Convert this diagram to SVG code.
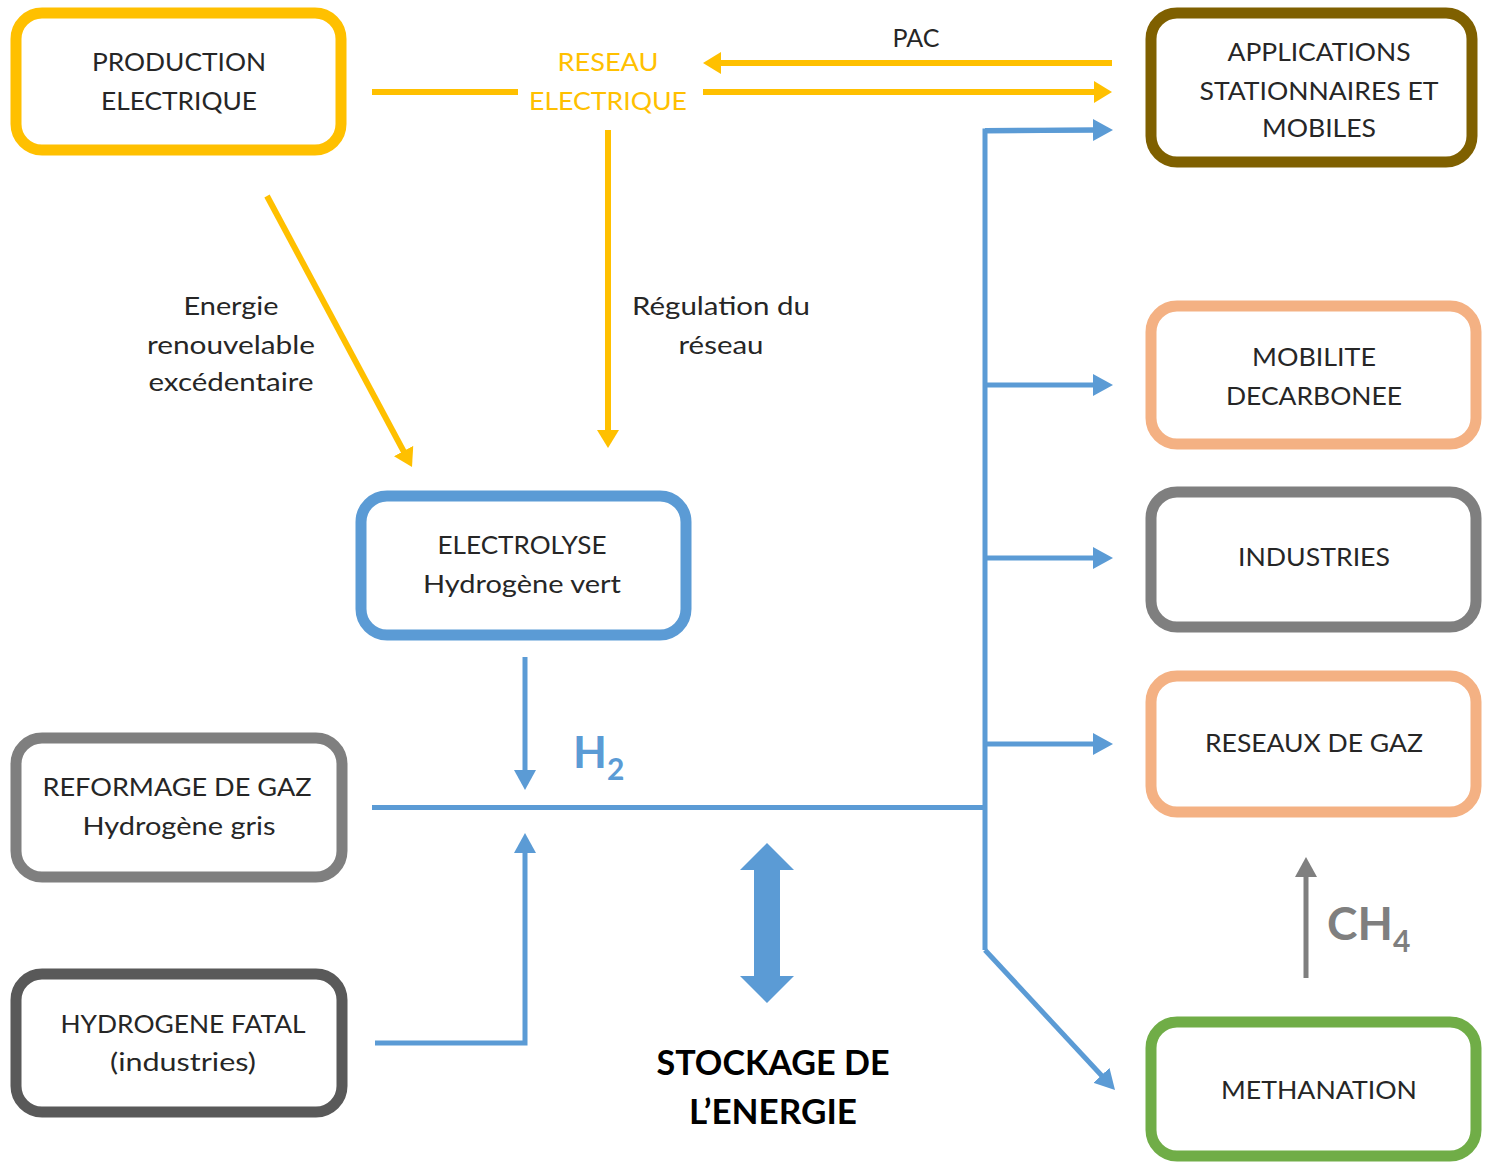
<svg xmlns="http://www.w3.org/2000/svg" width="1491" height="1162" viewBox="0 0 1491 1162">
<style>
.box{fill:#fff;stroke-width:11}
.t{font-family:Lato,"Liberation Sans",sans-serif;font-size:25px;fill:#262626;text-anchor:middle}
.y{stroke:#FFC000;stroke-width:6;fill:none}
.b{stroke:#5B9BD5;stroke-width:5;fill:none}
.g{stroke:#7F7F7F;stroke-width:5;fill:none}
</style>
<defs>
<marker id="ay" markerUnits="userSpaceOnUse" markerWidth="18" markerHeight="22" refX="4" refY="11" orient="auto"><path d="M0,0 L18,11 L0,22 z" fill="#FFC000"/></marker>
<marker id="ab" markerUnits="userSpaceOnUse" markerWidth="20" markerHeight="22" refX="4" refY="11" orient="auto"><path d="M0,0 L20,11 L0,22 z" fill="#5B9BD5"/></marker>
<marker id="ag" markerUnits="userSpaceOnUse" markerWidth="20" markerHeight="22" refX="4" refY="11" orient="auto"><path d="M0,0 L20,11 L0,22 z" fill="#7F7F7F"/></marker>
</defs>
<rect width="1491" height="1162" fill="#fff"/>

<g id="connectors">
<line class="y" x1="372" y1="92" x2="518" y2="92"/>
<line class="y" x1="703" y1="92" x2="1098" y2="92" marker-end="url(#ay)"/>
<line class="y" x1="1112" y1="63" x2="717" y2="63" marker-end="url(#ay)"/>
<line class="y" x1="608" y1="130" x2="608" y2="434" marker-end="url(#ay)"/>
<line class="y" x1="267" y1="196" x2="405.4" y2="454.6" marker-end="url(#ay)"/>
<line class="b" x1="525" y1="657" x2="525" y2="774" marker-end="url(#ab)"/>
<line class="b" x1="372" y1="807.5" x2="987" y2="807.5"/>
<polyline class="b" points="375,1043 525,1043 525,849" marker-end="url(#ab)"/>
<polyline class="b" points="1097,130 985,131 985,950"/>
<line class="b" x1="985" y1="130.5" x2="1097" y2="130" marker-end="url(#ab)"/>
<line class="b" x1="985" y1="385" x2="1097" y2="385" marker-end="url(#ab)"/>
<line class="b" x1="985" y1="558" x2="1097" y2="558" marker-end="url(#ab)"/>
<line class="b" x1="985" y1="744" x2="1097" y2="744" marker-end="url(#ab)"/>
<line class="b" x1="985" y1="950" x2="1104.1" y2="1078.3" marker-end="url(#ab)"/>
<polygon points="767,843 794,870 780,870 780,976 794,976 767,1003 740,976 754,976 754,870 740,870" fill="#5B9BD5"/>
<line class="g" x1="1306" y1="978" x2="1306" y2="873" marker-end="url(#ag)"/>
<text class="t" x="916" y="47" textLength="47" lengthAdjust="spacingAndGlyphs">PAC</text>
<text class="t" x="608" y="71" fill="#FFC000" style="fill:#FFC000" textLength="101" lengthAdjust="spacingAndGlyphs">RESEAU</text>
<text class="t" x="608" y="110" style="fill:#FFC000" textLength="158" lengthAdjust="spacingAndGlyphs">ELECTRIQUE</text>
<text class="t" x="231" y="315" textLength="95" lengthAdjust="spacingAndGlyphs">Energie</text>
<text class="t" x="231" y="354" textLength="168" lengthAdjust="spacingAndGlyphs">renouvelable</text>
<text class="t" x="231" y="391" textLength="165" lengthAdjust="spacingAndGlyphs">excédentaire</text>
<text class="t" x="721" y="315" textLength="178" lengthAdjust="spacingAndGlyphs">Régulation du</text>
<text class="t" x="721" y="354" textLength="85" lengthAdjust="spacingAndGlyphs">réseau</text>
<text x="573" y="768" font-family="Lato,'Liberation Sans',sans-serif" font-weight="bold" font-size="44" fill="#5B9BD5">H<tspan font-size="30" dy="12">2</tspan></text>
<text x="1327" y="940" font-family="Lato,'Liberation Sans',sans-serif" font-weight="bold" font-size="46" fill="#7F7F7F">CH<tspan font-size="30" dy="12">4</tspan></text>
<text x="773" y="1075" font-family="Lato,'Liberation Sans',sans-serif" font-weight="bold" font-size="35" fill="#000" text-anchor="middle" textLength="233" lengthAdjust="spacingAndGlyphs">STOCKAGE DE</text>
<text x="773" y="1124" font-family="Lato,'Liberation Sans',sans-serif" font-weight="bold" font-size="35" fill="#000" text-anchor="middle" textLength="168" lengthAdjust="spacingAndGlyphs">L’ENERGIE</text>
</g>

<g id="production">
<rect class="box" x="16" y="13" width="325" height="137" rx="26" stroke="#FFC000"/>
<text class="t" x="179" y="71" textLength="174" lengthAdjust="spacingAndGlyphs">PRODUCTION</text>
<text class="t" x="179" y="110" textLength="156" lengthAdjust="spacingAndGlyphs">ELECTRIQUE</text>
</g>
<g id="applications">
<rect class="box" x="1151" y="13" width="321" height="149" rx="26" stroke="#7F6000"/>
<text class="t" x="1319" y="61" textLength="183" lengthAdjust="spacingAndGlyphs">APPLICATIONS</text>
<text class="t" x="1319" y="100" textLength="239" lengthAdjust="spacingAndGlyphs">STATIONNAIRES ET</text>
<text class="t" x="1319" y="137" textLength="114" lengthAdjust="spacingAndGlyphs">MOBILES</text>
</g>
<g id="mobilite">
<rect class="box" x="1151" y="306" width="325" height="138" rx="26" stroke="#F4B183"/>
<text class="t" x="1314" y="366" textLength="124" lengthAdjust="spacingAndGlyphs">MOBILITE</text>
<text class="t" x="1314" y="405" textLength="176" lengthAdjust="spacingAndGlyphs">DECARBONEE</text>
</g>
<g id="industries">
<rect class="box" x="1151" y="492" width="325" height="135" rx="26" stroke="#7F7F7F"/>
<text class="t" x="1314" y="566" textLength="152" lengthAdjust="spacingAndGlyphs">INDUSTRIES</text>
</g>
<g id="reseaux-gaz">
<rect class="box" x="1151" y="676" width="325" height="136" rx="26" stroke="#F4B183"/>
<text class="t" x="1314" y="752" textLength="218" lengthAdjust="spacingAndGlyphs">RESEAUX DE GAZ</text>
</g>
<g id="methanation">
<rect class="box" x="1151" y="1022" width="325" height="134" rx="26" stroke="#70AD47"/>
<text class="t" x="1319" y="1099" textLength="196" lengthAdjust="spacingAndGlyphs">METHANATION</text>
</g>
<g id="electrolyse">
<rect class="box" x="361" y="496" width="325" height="139" rx="26" stroke="#5B9BD5"/>
<text class="t" x="522" y="554" textLength="169" lengthAdjust="spacingAndGlyphs">ELECTROLYSE</text>
<text class="t" x="522" y="593" textLength="198" lengthAdjust="spacingAndGlyphs">Hydrogène vert</text>
</g>
<g id="reformage">
<rect class="box" x="16" y="738" width="326" height="139" rx="26" stroke="#7F7F7F"/>
<text class="t" x="177" y="796" textLength="269" lengthAdjust="spacingAndGlyphs">REFORMAGE DE GAZ</text>
<text class="t" x="179" y="835" textLength="193" lengthAdjust="spacingAndGlyphs">Hydrogène gris</text>
</g>
<g id="fatal">
<rect class="box" x="16" y="974" width="326" height="138" rx="26" stroke="#595959"/>
<text class="t" x="183" y="1033" textLength="245" lengthAdjust="spacingAndGlyphs">HYDROGENE FATAL</text>
<text class="t" x="183" y="1071" textLength="146" lengthAdjust="spacingAndGlyphs">(industries)</text>
</g>
</svg>
